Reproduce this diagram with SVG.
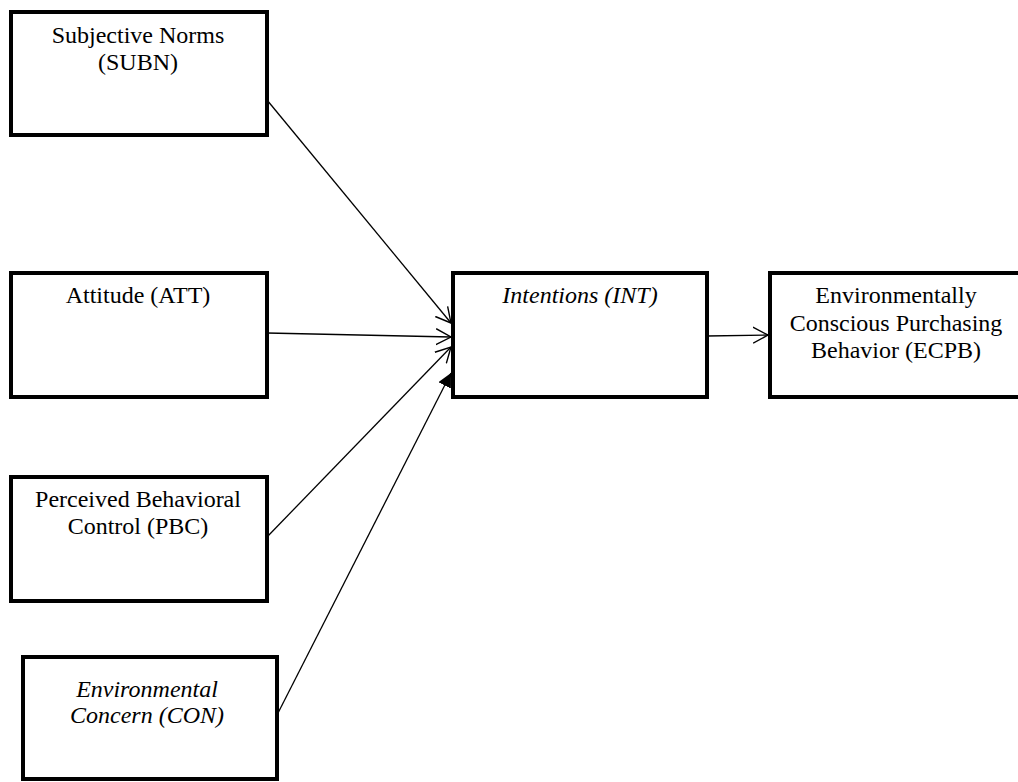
<svg xmlns="http://www.w3.org/2000/svg" width="1018" height="782" viewBox="0 0 1018 782">
<style>
.box{fill:#fff;stroke:#000;stroke-width:4}
.t{font-family:"Liberation Serif","Times New Roman",serif;font-size:24px;fill:#000;text-anchor:middle}
.i{font-style:italic}
.c{stroke:#000;stroke-width:1.3;fill:none}
</style>
<defs>
<marker id="open" viewBox="0 0 16 18" refX="15" refY="9" markerWidth="16" markerHeight="18" markerUnits="userSpaceOnUse" orient="auto">
<path d="M0,1 L15,9 L0,17" fill="none" stroke="#000" stroke-width="1.4"/>
</marker>
<marker id="fill" viewBox="0 0 14 14" refX="14" refY="7" markerWidth="14" markerHeight="14" markerUnits="userSpaceOnUse" orient="auto">
<path d="M0,0 L14,7 L0,14 Z" fill="#000"/>
</marker>
</defs>
<g id="connectors">
<line class="c" x1="267" y1="100" x2="451" y2="323" marker-end="url(#open)"/>
<line class="c" x1="267" y1="333" x2="451" y2="337" marker-end="url(#open)"/>
<line class="c" x1="267" y1="537" x2="451" y2="347" marker-end="url(#open)"/>
<line class="c" x1="277" y1="715" x2="451" y2="373" marker-end="url(#fill)"/>
<line class="c" x1="707" y1="336" x2="768" y2="335" marker-end="url(#open)"/>
</g>
<g id="SUBN">
<rect class="box" x="11" y="12" width="256" height="123"/>
<text class="t" x="138" y="43">Subjective Norms</text>
<text class="t" x="138" y="70">(SUBN)</text>
</g>
<g id="ATT">
<rect class="box" x="11" y="273" width="256" height="124"/>
<text class="t" x="138" y="303">Attitude (ATT)</text>
</g>
<g id="PBC">
<rect class="box" x="11" y="477" width="256" height="124"/>
<text class="t" x="138" y="507">Perceived Behavioral</text>
<text class="t" x="138" y="534">Control (PBC)</text>
</g>
<g id="CON">
<rect class="box" x="23" y="657" width="254" height="122"/>
<text class="t i" x="147" y="697">Environmental</text>
<text class="t i" x="147" y="723">Concern (CON)</text>
</g>
<g id="INT">
<rect class="box" x="453" y="273" width="254" height="124"/>
<text class="t i" x="580" y="303">Intentions (INT)</text>
</g>
<g id="ECPB">
<rect class="box" x="770" y="273" width="252" height="124"/>
<text class="t" x="896" y="303">Environmentally</text>
<text class="t" x="896" y="331">Conscious Purchasing</text>
<text class="t" x="896" y="358">Behavior (ECPB)</text>
</g>
</svg>
